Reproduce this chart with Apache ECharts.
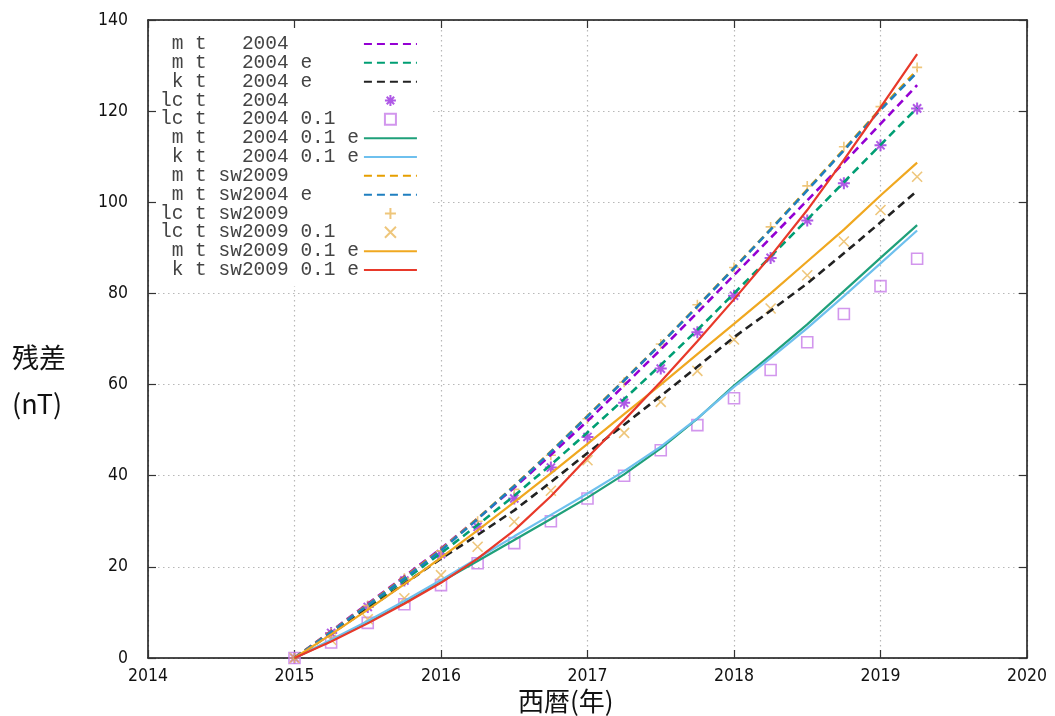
<!DOCTYPE html>
<html>
<head>
<meta charset="utf-8">
<script src="https://cdn.jsdelivr.net/npm/echarts@6/dist/echarts.min.js"></script>
<style>html,body{margin:0;padding:0;background:#fff;}#c{width:1055px;height:716px;}</style>
</head>
<body>
<div id="c"></div>
<script>
// ---- data ----
const times = [2015, 2015.25, 2015.5, 2015.75, 2016, 2016.25, 2016.5, 2016.75, 2017, 2017.25, 2017.5, 2017.75, 2018, 2018.25, 2018.5, 2018.75, 2019, 2019.25];
const xTicks = [2014, 2015, 2016, 2017, 2018, 2019, 2020];
const yTicks = [0, 20, 40, 60, 80, 100, 120, 140];

const mt2004      = [0, 5.9, 11.9, 17.9, 24.0, 30.6, 37.4, 44.6, 52.0, 59.8, 67.7, 75.8, 84.0, 92.2, 100.4, 108.7, 117.2, 125.7];
const mt2004e     = [0, 5.6, 11.3, 17.1, 23.0, 29.2, 35.6, 42.4, 49.5, 56.8, 64.3, 72.0, 80.0, 88.1, 96.2, 104.4, 112.6, 120.7];
const kt2004e     = [0, 5.3, 10.8, 16.3, 21.8, 27.0, 32.4, 38.6, 45.0, 51.2, 57.5, 63.9, 70.4, 76.2, 82.2, 88.8, 95.6, 102.5];
const lct2004     = [0, 5.5, 11.2, 17.0, 22.8, 28.8, 35.0, 41.8, 48.5, 56.0, 63.5, 71.5, 79.5, 87.8, 96.0, 104.2, 112.5, 120.6];
const lct2004_01  = [0, 3.4, 7.7, 11.8, 16.0, 20.8, 25.2, 30.0, 35.0, 40.0, 45.6, 51.1, 57.0, 63.2, 69.3, 75.5, 81.6, 87.6];
const mt2004_01e  = [0, 3.8, 7.8, 12.1, 16.7, 21.3, 25.9, 30.5, 35.2, 40.3, 46.0, 52.5, 59.8, 66.4, 73.2, 80.5, 87.8, 95.0];
const kt2004_01e  = [0, 4.0, 8.1, 12.5, 17.1, 21.9, 26.7, 31.4, 36.1, 41.0, 46.4, 52.6, 59.5, 65.8, 72.4, 79.4, 86.6, 93.8];
const mtsw2009    = [0, 5.8, 11.7, 17.7, 23.8, 30.6, 37.8, 45.3, 53.1, 61.0, 69.0, 77.2, 85.6, 94.1, 102.8, 111.6, 120.5, 129.0];
const mtsw2004e   = [0, 5.7, 11.6, 17.5, 23.6, 30.5, 37.7, 45.2, 53.0, 60.9, 68.9, 77.1, 85.5, 94.0, 102.6, 111.4, 120.3, 128.5];
const lctsw2009   = [0, 5.5, 11.5, 17.5, 23.5, 30.0, 37.0, 44.5, 52.5, 60.5, 68.9, 77.5, 85.7, 94.6, 103.6, 112.2, 121.0, 129.6];
const lctsw2009_01= [0, 4.0, 8.5, 13.1, 18.2, 24.4, 29.9, 36.7, 43.4, 49.4, 56.2, 63.0, 69.9, 76.7, 84.0, 91.4, 98.3, 105.6];
const mtsw2009_01e= [0, 5.2, 10.6, 16.2, 22.0, 28.0, 34.2, 40.5, 47.0, 53.5, 60.0, 66.7, 73.3, 80.0, 87.0, 94.0, 101.5, 108.7];
const ktsw2009_01e= [0, 3.6, 7.6, 11.9, 16.5, 21.8, 28.0, 35.5, 44.0, 52.2, 60.6, 69.5, 78.7, 88.2, 98.3, 109.3, 120.8, 132.5];

const names = [' m t   2004', ' m t   2004 e', ' k t   2004 e', 'lc t   2004', 'lc t   2004 0.1',
  ' m t   2004 0.1 e', ' k t   2004 0.1 e', ' m t sw2009', ' m t sw2004 e', 'lc t sw2009',
  'lc t sw2009 0.1', ' m t sw2009 0.1 e', ' k t sw2009 0.1 e'];

function pairs(v) { return times.map((t, i) => [t, v[i]]); }

const DASH = [8, 5];
function dashLine(name, v, color) {
  return { name, type: 'line', data: pairs(v), showSymbol: false, symbol: 'none',
    lineStyle: { color, width: 2.6, type: DASH }, itemStyle: { color } };
}
function solidLine(name, v, color) {
  return { name, type: 'line', data: pairs(v), showSymbol: false, symbol: 'none',
    lineStyle: { color, width: 2.2, type: 'solid' }, itemStyle: { color } };
}
function marks(name, v, color, symbol, size, bw) {
  return { name, type: 'scatter', data: pairs(v), symbol, symbolSize: size, symbolKeepAspect: true,
    itemStyle: { color: 'rgba(255,255,255,0)', borderColor: color, borderWidth: bw || 1.6 } };
}

const ASTER = 'path://M0,5L10,5M5,0L5,10M1.6,1.6L8.4,8.4M8.4,1.6L1.6,8.4';
const PLUS = 'path://M0,5L10,5M5,0L5,10';
const CROSS = 'path://M0,0L10,10M10,0L0,10';
const SQUARE = 'path://M0,0L10,0L10,10L0,10Z';

const series = [
  dashLine(names[0], mt2004, '#9400d3'),
  dashLine(names[1], mt2004e, '#009e73'),
  dashLine(names[2], kt2004e, '#222222'),
  marks(names[3], lct2004, '#9b30e0', ASTER, 12, 2),
  marks(names[4], lct2004_01, '#c77ce8', SQUARE, 11, 1.6),
  solidLine(names[5], mt2004_01e, '#1fa07a'),
  solidLine(names[6], kt2004_01e, '#6ec0ee'),
  dashLine(names[7], mtsw2009, '#e69f00'),
  dashLine(names[8], mtsw2004e, '#1f7fc0'),
  marks(names[9], lctsw2009, '#eab85a', PLUS, 10, 1.6),
  marks(names[10], lctsw2009_01, '#eab85a', CROSS, 10, 1.6),
  solidLine(names[11], mtsw2009_01e, '#f0a820'),
  solidLine(names[12], ktsw2009_01e, '#e8392a')
];

const legendData = series.map(s => s.type === 'line'
  ? { name: s.name, itemStyle: { opacity: 0 } }
  : { name: s.name });

const labelFont = { color: '#111', fontSize: 17.5, fontFamily: '"Liberation Sans Narrow", "DejaVu Sans Condensed", "Liberation Sans", sans-serif' };
const gridLine = { show: true, lineStyle: { color: '#b8b8b8', width: 1.2, type: [1.5, 3.5] } };
const frame = { show: true, onZero: false, lineStyle: { color: '#111', width: 1.5 } };
const tick = { show: true, inside: true, length: 8, lineStyle: { color: '#333', width: 1.2 } };

const chart = echarts.init(document.getElementById('c'), null, { renderer: 'canvas' });
chart.setOption({
  animation: false,
  backgroundColor: '#fff',
  grid: { left: 148, top: 20, right: 28, bottom: 58, containLabel: false },
  xAxis: [
    { type: 'value', min: xTicks[0], max: xTicks[xTicks.length - 1], interval: 1,
      axisLine: frame, axisTick: tick, splitLine: gridLine,
      axisLabel: Object.assign({ margin: 9, formatter: v => String(v) }, labelFont) },
    { type: 'value', position: 'top', min: xTicks[0], max: xTicks[xTicks.length - 1], interval: 1,
      axisLine: frame, axisTick: tick, splitLine: { show: false }, axisLabel: { show: false } }
  ],
  yAxis: [
    { type: 'value', min: yTicks[0], max: yTicks[yTicks.length - 1], interval: 20,
      axisLine: frame, axisTick: tick, splitLine: gridLine,
      axisLabel: Object.assign({ margin: 20 }, labelFont) },
    { type: 'value', position: 'right', min: yTicks[0], max: yTicks[yTicks.length - 1], interval: 20,
      axisLine: frame, axisTick: tick, splitLine: { show: false }, axisLabel: { show: false } }
  ],
  legend: {
    orient: 'vertical', left: 157, top: 30, align: 'right',
    backgroundColor: '#fff', padding: [4, 12, 6, 3],
    itemWidth: 53, itemHeight: 11, itemGap: -1.17,
    selectedMode: false,
    data: legendData,
    formatter: n => n.padEnd(17, ' '),
    textStyle: { fontFamily: 'Liberation Mono, monospace', fontSize: 19.5, color: '#444' }
  },
  graphic: [
    { type: 'text', left: 12, top: 344, style: { text: '残差', font: '27px "Noto Sans CJK JP"', fill: '#111' } },
    { type: 'text', left: 12, top: 390, style: { text: '(nT)', font: '27px "Noto Sans CJK JP"', fill: '#111' } },
    { type: 'text', left: 518, top: 688, style: { text: '西暦(年)', font: '26px "Noto Sans CJK JP"', fill: '#111' } }
  ],
  series
});
</script>
</body>
</html>
